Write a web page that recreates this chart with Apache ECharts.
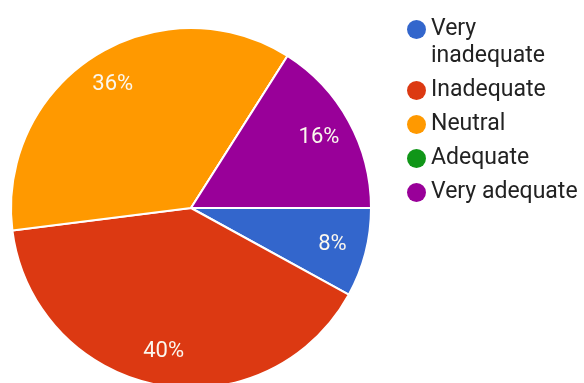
<!DOCTYPE html>
<html>
<head>
<meta charset="utf-8">
<script src="https://cdn.jsdelivr.net/npm/echarts@6/dist/echarts.min.js"></script>
<style>
  html, body { margin: 0; padding: 0; background: #ffffff; }
  #chart { width: 584px; height: 383px; }
</style>
</head>
<body>
<div id="chart"></div>
<script>
// Survey responses, share of respondents (%)
const categories = ['Very inadequate', 'Inadequate', 'Neutral', 'Adequate', 'Very adequate'];
const shares = [8, 40, 36, 0, 16];
const colors = ['#3366cc', '#dc3912', '#ff9900', '#109618', '#990099'];
// The leading blank line keeps the dot level with the first line of a wrapped name
const legendNames = ['\nVery\ninadequate', 'Inadequate', 'Neutral', 'Adequate', 'Very adequate'];

const FONT = 'Roboto, "Noto Sans", sans-serif';
const center = [191, 208];

const sliceData = categories.map((name, i) => ({
  name: name,
  value: shares[i],
  itemStyle: { color: colors[i] }
}));

// Transparent ring whose midpoint carries the percentage labels
const labelData = categories.map((name, i) => ({
  name: name,
  value: shares[i],
  label: { show: shares[i] > 0 }
}));

const chart = echarts.init(document.getElementById('chart'), null, { renderer: 'canvas' });
chart.setOption({
  animation: false,
  backgroundColor: '#ffffff',
  legend: {
    orient: 'vertical',
    left: 407,
    top: -11,
    padding: 0,
    icon: 'circle',
    itemWidth: 19,
    itemHeight: 19,
    itemGap: 7,
    itemTextGap: 10,
    itemStyle: { borderWidth: 0 },
    textStyle: { fontFamily: FONT, fontSize: 23, color: '#222222', lineHeight: 27 },
    formatter: name => legendNames[categories.indexOf(name)],
    data: categories
  },
  series: [
    {
      type: 'pie',
      center: center,
      radius: 180,
      startAngle: 0,
      clockwise: true,
      silent: true,
      avoidLabelOverlap: false,
      label: { show: false },
      labelLine: { show: false },
      itemStyle: { borderColor: '#ffffff', borderWidth: 2 },
      data: sliceData
    },
    {
      type: 'pie',
      center: center,
      radius: [106, 180],
      startAngle: 0,
      clockwise: true,
      silent: true,
      legendHoverLink: false,
      avoidLabelOverlap: false,
      itemStyle: { color: 'rgba(0,0,0,0)', borderWidth: 0 },
      label: {
        position: 'inside',
        formatter: p => p.value + '%',
        fontFamily: FONT,
        fontSize: 22,
        color: '#fbf7ee'
      },
      labelLine: { show: false },
      data: labelData
    }
  ]
});
</script>
</body>
</html>
